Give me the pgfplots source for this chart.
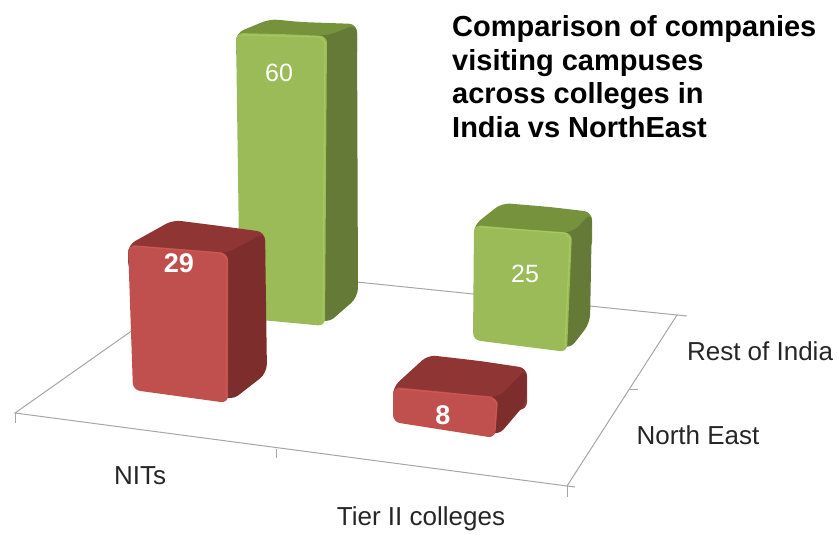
\documentclass[border=0pt]{standalone}
\usepackage{pgfplots}
\pgfplotsset{compat=1.18}
\usepackage{fontspec}
\setmainfont{Liberation Sans}

\definecolor{greenfront}{HTML}{9BBB59}
\definecolor{greentop}{HTML}{76923C}
\definecolor{greenside}{HTML}{647A36}
\definecolor{greenlight}{HTML}{ABCF62}
\definecolor{redfront}{HTML}{C0504D}
\definecolor{redtop}{HTML}{8F3634}
\definecolor{redside}{HTML}{7D2E2C}
\definecolor{redlight}{HTML}{D45A56}
\definecolor{floorline}{HTML}{A6A6A6}

% faces are given in picture coordinates, the chart is a perspective view
\pgfplotsset{
  face/.style={draw=none,mark=none,rounded corners=#1},
  hl/.style={mark=none,line width=1.2pt,line cap=round,opacity=0.7},
  floor/.style={mark=none,color=floorline,line width=1pt},
}

\begin{document}
\begin{tikzpicture}
\begin{axis}[
  scale only axis,
  width=837pt,
  height=533pt,
  xmin=0,xmax=837,
  ymin=0,ymax=533,
  y dir=reverse,
  hide axis,
  clip=false,
]
% keeps the page as large as the axis
\addplot[draw=none,mark=none] coordinates {(0,0) (837,533)};
% floor
\addplot[floor] coordinates {(221,268) (15,413) (567,486) (677,315) (221,268)};
% ticks
\addplot[floor] coordinates {(15,413) (15,423)};
\addplot[floor] coordinates {(276,449) (276,458)};
\addplot[floor] coordinates {(567,486) (567,497)};
\addplot[floor] coordinates {(567,486) (575,487)};
\addplot[floor] coordinates {(630,389) (638,389)};
\addplot[floor] coordinates {(677,315) (687,316)};

% Rest of India, NITs
\addplot[face=8pt,fill=greentop] coordinates {(300,22) (357,24) (357,60) (236,60) (236,33) (270,19)} --cycle;
\addplot[face=9pt,fill=greenside] coordinates {(310,35) (327,36) (357,24) (358,297) (327,324) (305,310)} --cycle;
\addplot[face=7pt,fill=greenfront] coordinates {(280,34) (327,36) (325,326) (240,318) (236,33)} --cycle;
\addplot[hl,color=greenlight] coordinates {(242,35) (320,37) (325,42) (323,320)};

% Rest of India, Tier II
\addplot[face=8pt,fill=greentop] coordinates {(550,207) (592,212) (592,250) (474,250) (474,225) (502,203)} --cycle;
\addplot[face=9pt,fill=greenside] coordinates {(555,232) (572,233) (592,212) (590,323) (569,350) (545,335)} --cycle;
\addplot[face=7pt,fill=greenfront] coordinates {(520,229) (572,233) (567,352) (473,340) (474,225)} --cycle;
\addplot[hl,color=greenlight] coordinates {(480,227) (565,233) (570,239) (565,346)};

% North East, NITs
\addplot[face=8pt,fill=redtop] coordinates {(220,226) (265,232) (265,270) (128,270) (128,245) (173,220)} --cycle;
\addplot[face=9pt,fill=redside] coordinates {(210,252) (228,253) (265,232) (267,373) (231,401) (205,385)} --cycle;
\addplot[face=7pt,fill=redfront] coordinates {(180,249) (228,253) (228,403) (133,390) (128,245)} --cycle;
\addplot[hl,color=redlight] coordinates {(134,246) (221,253) (227,259) (226,396)};

% North East, Tier II
\addplot[face=8pt,fill=redtop] coordinates {(480,361) (527,368) (527,410) (393,410) (393,387) (428,355)} --cycle;
\addplot[face=9pt,fill=redside] coordinates {(480,396) (498,398) (527,368) (526,403) (498,436) (470,425)} --cycle;
\addplot[face=7pt,fill=redfront] coordinates {(445,392) (498,398) (495,438) (393,422) (393,387)} --cycle;
\addplot[hl,color=redlight] coordinates {(399,389) (491,397) (497,403) (495,430)};

% values
\addplot[only marks,mark=none,
  nodes near coords,point meta=explicit symbolic,
  every node near coord/.append style={anchor=center,inner sep=0pt,text=white,
    font=\fontsize{25}{25}\selectfont}]
  table[meta=v] {
    x y v
    279 73 60
    525 274 25
  };
\addplot[only marks,mark=none,
  nodes near coords,point meta=explicit symbolic,
  every node near coord/.append style={anchor=center,inner sep=0pt,text=white,
    font=\fontsize{27}{27}\selectfont\bfseries}]
  table[meta=v] {
    x y v
    179 263 29
    443 415 8
  };

% category names
\node[anchor=center,font=\fontsize{26}{26}\selectfont,text=black!85] at (axis cs:140,476) {NITs};
\node[anchor=center,font=\fontsize{26}{26}\selectfont,text=black!85] at (axis cs:421,519) {Tier II colleges};
\node[anchor=center,font=\fontsize{26}{26}\selectfont,text=black!85] at (axis cs:698,435) {North East};
\node[anchor=center,font=\fontsize{26}{26}\selectfont,text=black!85] at (axis cs:760,351) {Rest of India};

% title
\node[anchor=base west,inner sep=0pt,font=\fontsize{29}{29}\selectfont\bfseries] at (axis cs:452,37) {Comparison of companies};
\node[anchor=base west,inner sep=0pt,font=\fontsize{29}{29}\selectfont\bfseries] at (axis cs:452,71) {visiting campuses};
\node[anchor=base west,inner sep=0pt,font=\fontsize{29}{29}\selectfont\bfseries] at (axis cs:452,104) {across colleges in};
\node[anchor=base west,inner sep=0pt,font=\fontsize{29}{29}\selectfont\bfseries] at (axis cs:452,138) {India vs NorthEast};
\end{axis}
\end{tikzpicture}
\end{document}
